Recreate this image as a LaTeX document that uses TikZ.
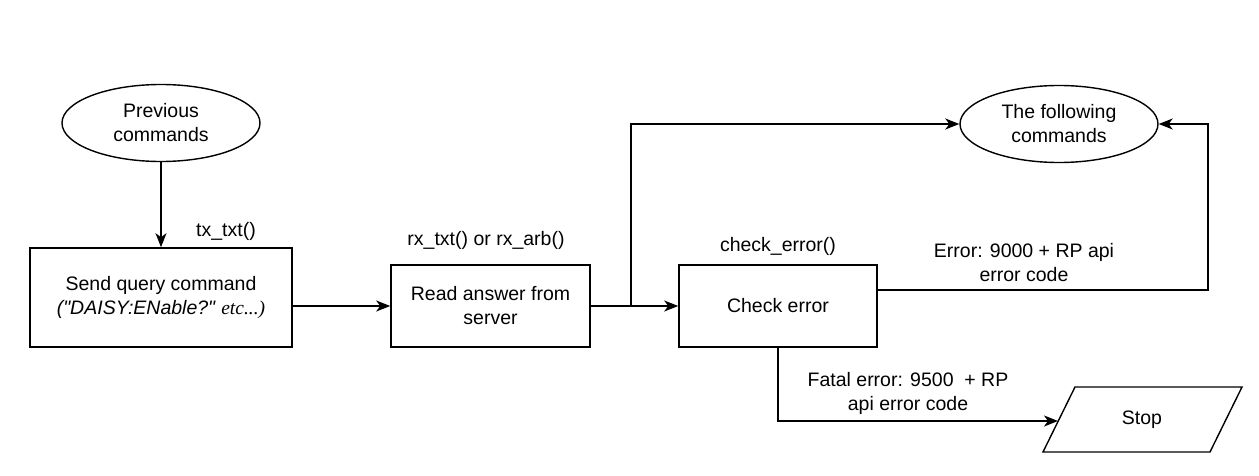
\documentclass[tikz,border=0pt]{standalone}
\usepackage{fontspec}
\setmainfont{Liberation Sans}[Ligatures=TeXOff]
\newfontfamily\timesit{Liberation Serif}[Ligatures=TeXOff]
\usetikzlibrary{arrows.meta,shapes.geometric}
\begin{document}
\begin{tikzpicture}[x=1pt,y=-1pt,
  every node/.style={font=\fontsize{19.5}{24}\selectfont, align=center, inner sep=0pt},
  box/.style={draw, line width=1.6pt, minimum width=#1, minimum height=82pt},
  oval/.style={draw, line width=1.4pt, ellipse, minimum width=198pt, minimum height=77pt},
  conn/.style={line width=1.6pt, -{Stealth[length=14pt,width=11pt,inset=4pt]}},
  plain/.style={line width=1.6pt}]
\useasboundingbox (0,0) rectangle (1259,476);
\node[oval] (prev) at (161,123) {Previous\\commands};
\node[oval] (next) at (1059,124) {The following\\commands};
\node[box=262pt, minimum height=99pt] (send) at (161,297.5) {Send query command\\\textit{("DAISY:ENable?"} {\timesit\itshape etc...)}};
\node[box=199pt] (read) at (490.5,306) {Read answer from\\server};
\node[box=198pt] (check) at (778,306) {Check error};
\node (stop) at (1142,420) {Stop};
\draw[line width=1.4pt] (1043,452) -- (1075,387) -- (1242,387) -- (1210,452) -- cycle;
\coordinate (stopin) at (1058,421);
\coordinate (split) at (631,306);
% connectors
\draw[conn] (prev.south) -- (send.north);
\draw[conn] (send.east |- read.west) -- (read.west);
\draw[conn] (read.east) -- (check.west);
\draw[conn] (split) |- (next.west);
\draw[conn] (check.east |- 0,290) -- (1208,290) |- (next.east);
\draw[conn] (check.south) |- (stopin);
% labels
\node at (226,231) {tx\_txt()};
\node at (486,240) {rx\_txt() or rx\_arb()};
\node at (778,246) {check\_error()};
\node at (1024,263) {Error: 9000 + RP api\\error code};
\node at (908,393) {Fatal error: 9500 \ + RP\\api error code};
\end{tikzpicture}
\end{document}
